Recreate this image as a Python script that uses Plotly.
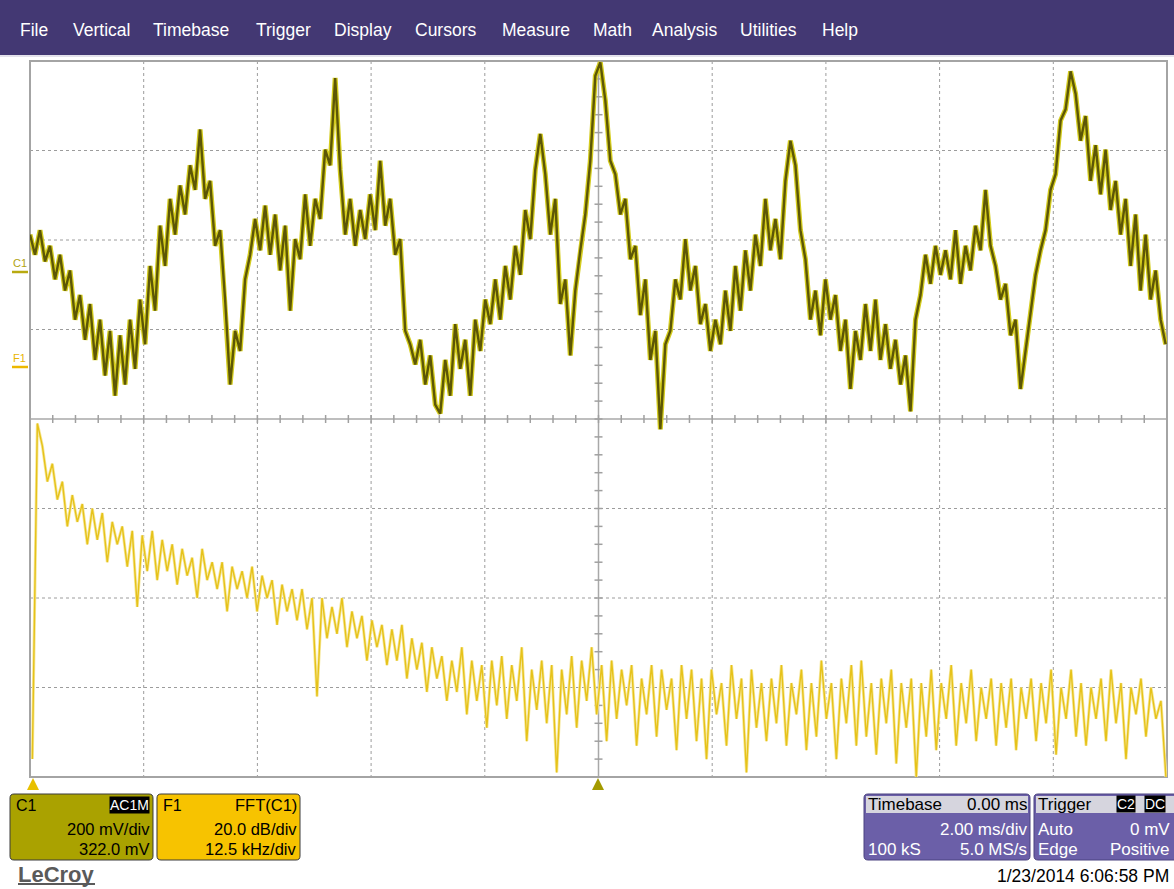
import numpy as np
import plotly.graph_objects as go

W, H = 1174, 889

# ---------------- data ----------------
# C1 : 200 mV/div, offset 322 mV, 2 ms/div, 20 ms record (values in mV)
c1_mv = [
    90, 45, 100, 30, 65, -10, 45, -35, 10, -100,
    -45, -145, -65, -190, -100, -225, -125, -270, -135, -245,
    -100, -210, -55, -155, 20, -80, 110, 20, 170, 90,
    200, 135, 245, 190, 325, 170, 210, 65, 100, -55,
    -245, -125, -170, -10, 45, 125, 55, 155, 45, 135,
    10, 110, -80, 80, 35, 180, 65, 170, 125, 280,
    245, 440, 235, 90, 170, 65, 145, 80, 180, 100,
    255, 110, 170, 45, 80, -125, -155, -200, -145, -245,
    -180, -290, -310, -190, -270, -110, -210, -145, -270, -100,
    -170, -55, -110, -10, -100, 20, -55, 65, 0, 145,
    80, 235, 315, 225, 90, 170, -65, -10, -180, -35,
    55, 135, 255, 445, 475, 390, 255, 225, 135, 170,
    35, 65, -90, -10, -190, -125, -345, -155, -125, -10,
    -55, 80, -35, 20, -110, -65, -170, -100, -155, -35,
    -125, 20, -80, 55, -35, 90, 20, 170, 55, 125,
    35, 210, 300, 245, 100, 35, -100, -35, -135, -10,
    -100, -45, -170, -100, -255, -125, -190, -65, -170, -55,
    -190, -110, -210, -145, -245, -180, -305, -100, -45, 45,
    -20, 65, 0, 55, -10, 100, -20, 65, 10, 110,
    55, 190, 65, 20, -55, -20, -135, -100, -255, -170,
    -80, 0, 55, 100, 190, 225, 345, 370, 455, 405,
    300, 355, 210, 290, 180, 280, 145, 210, 90, 170,
    20, 135, -35, 90, -55, 10, -100, -155,
]
c1_t0_ms = -10.0
c1_dt_ms = 0.088

# F1 : FFT(C1), 20 dB/div, 12.5 kHz/div (values in dB)
fft_db = [
    -88, -13, -18, -26, -22, -30, -26, -36, -29, -35,
    -31, -40, -32, -39, -33, -44, -35, -40, -36, -45,
    -37, -54, -38, -46, -37, -48, -39, -46, -40, -49,
    -41, -47, -43, -52, -41, -48, -44, -50, -44, -55,
    -45, -50, -46, -52, -45, -55, -47, -52, -48, -58,
    -49, -55, -50, -57, -50, -59, -52, -74, -52, -61,
    -54, -60, -52, -63, -55, -61, -56, -66, -57, -63,
    -58, -67, -59, -66, -58, -70, -61, -68, -62, -73,
    -63, -70, -65, -75, -66, -73, -63, -78, -66, -75,
    -67, -81, -66, -76, -65, -79, -67, -75, -63, -84,
    -68, -77, -66, -80, -67, -91, -68, -78, -65, -81,
    -66, -75, -63, -78, -67, -84, -66, -79, -68, -76,
    -67, -85, -70, -78, -67, -83, -68, -77, -70, -86,
    -67, -79, -68, -84, -70, -88, -68, -78, -71, -85,
    -67, -79, -70, -91, -68, -81, -71, -84, -70, -80,
    -67, -85, -71, -78, -68, -86, -71, -83, -66, -79,
    -71, -88, -70, -80, -67, -85, -66, -83, -71, -87,
    -70, -80, -68, -89, -71, -81, -70, -92, -71, -83,
    -68, -86, -71, -79, -67, -85, -71, -80, -68, -84,
    -72, -79, -70, -85, -71, -81, -70, -86, -72, -79,
    -70, -84, -71, -80, -68, -87, -72, -79, -68, -83,
    -71, -85, -72, -79, -70, -84, -68, -80, -71, -88,
    -72, -78, -70, -83, -72, -79, -75, -92,
]
fft_f0_khz = 0.26
fft_df_khz = 0.549

menu_items = ["File", "Vertical", "Timebase", "Trigger", "Display", "Cursors",
              "Measure", "Math", "Analysis", "Utilities", "Help"]

c1_scale_mv, c1_offset_mv = 200.0, 322.0
f1_scale_db, f1_center_db = 20.0, -12.0
tdiv_ms, fdiv_khz = 2.0, 12.5

# ---------------- geometry (pixels) ----------------
PL, PR, PT, PB = 30, 1167, 61, 777
menu_x = [19, 72, 152, 255, 333, 414, 501, 592, 651, 739, 821]


def px(x):
    return x / W


def py(y):
    return 1 - y / H


t_ms = c1_t0_ms + np.arange(len(c1_mv)) * c1_dt_ms
f_khz = fft_f0_khz + np.arange(len(fft_db)) * fft_df_khz

fig = go.Figure()
# C1 trace: bright halo + dark core
fig.add_trace(go.Scatter(x=t_ms, y=c1_mv, mode="lines", xaxis="x", yaxis="y",
                         line=dict(color="#d4cc1e", width=5.0), hoverinfo="skip"))
fig.add_trace(go.Scatter(x=t_ms, y=c1_mv, mode="lines", xaxis="x", yaxis="y",
                         line=dict(color="#5c5606", width=2.4), hoverinfo="skip"))
# F1 trace
fig.add_trace(go.Scatter(x=f_khz, y=fft_db, mode="lines", xaxis="x2", yaxis="y2",
                         line=dict(color="#f6e89a", width=3.0), hoverinfo="skip"))
fig.add_trace(go.Scatter(x=f_khz, y=fft_db, mode="lines", xaxis="x2", yaxis="y2",
                         line=dict(color="#e6c21a", width=1.4), hoverinfo="skip"))

dom_x = [px(PL), px(PR)]
dom_y = [py(PB), py(PT)]
hidden = dict(showgrid=False, zeroline=False, showticklabels=False, ticks="",
              showline=False, fixedrange=True)

shapes = []
grid_col = "#9c9c9c"
xdiv = (PR - PL) / 10
ydiv = (PB - PT) / 8
# dotted grid
for k in range(1, 10):
    if k == 5:
        continue
    xx = PL + k * xdiv
    shapes.append(dict(type="line", xref="paper", yref="paper", x0=px(xx), x1=px(xx),
                       y0=py(PT), y1=py(PB), line=dict(color=grid_col, width=1, dash="dot"),
                       layer="below"))
for k in range(1, 8):
    if k == 4:
        continue
    yy = PT + k * ydiv
    shapes.append(dict(type="line", xref="paper", yref="paper", x0=px(PL), x1=px(PR),
                       y0=py(yy), y1=py(yy), line=dict(color=grid_col, width=1, dash="dot"),
                       layer="below"))
# center cross
cx = PL + 5 * xdiv
cy = PT + 4 * ydiv
shapes.append(dict(type="line", xref="paper", yref="paper", x0=px(cx), x1=px(cx),
                   y0=py(PT), y1=py(PB), line=dict(color="#a8a8a8", width=1.5), layer="below"))
shapes.append(dict(type="line", xref="paper", yref="paper", x0=px(PL), x1=px(PR),
                   y0=py(cy), y1=py(cy), line=dict(color="#a8a8a8", width=1.5), layer="below"))
for k in range(1, 50):
    xx = PL + k * xdiv / 5
    shapes.append(dict(type="line", xref="paper", yref="paper", x0=px(xx), x1=px(xx),
                       y0=py(cy - 4), y1=py(cy + 4), line=dict(color="#a0a0a0", width=1.5),
                       layer="below"))
for k in range(1, 40):
    yy = PT + k * ydiv / 5
    shapes.append(dict(type="line", xref="paper", yref="paper", x0=px(cx - 4), x1=px(cx + 4),
                       y0=py(yy), y1=py(yy), line=dict(color="#a0a0a0", width=1.5),
                       layer="below"))
# frame
shapes.append(dict(type="rect", xref="paper", yref="paper", x0=px(PL), x1=px(PR),
                   y0=py(PB), y1=py(PT), line=dict(color="#a4a4a4", width=2), layer="below"))
# menu bar
shapes.append(dict(type="rect", xref="paper", yref="paper", x0=0, x1=1, y0=py(55), y1=1,
                   fillcolor="#433873", line=dict(width=0), layer="below"))
shapes.append(dict(type="line", xref="paper", yref="paper", x0=0, x1=1, y0=py(56), y1=py(56),
                   line=dict(color="#c8c4d8", width=1), layer="below"))

# channel markers on the left
shapes.append(dict(type="line", xref="paper", yref="paper", x0=px(12), x1=px(28),
                   y0=py(272), y1=py(272), line=dict(color="#b8aa10", width=2.5)))
shapes.append(dict(type="line", xref="paper", yref="paper", x0=px(12), x1=px(28),
                   y0=py(367), y1=py(367), line=dict(color="#ecb800", width=2.5)))


def tri(x, y, color):
    path = "M {} {} L {} {} L {} {} Z".format(px(x - 6), py(y + 5), px(x + 6), py(y + 5),
                                             px(x), py(y - 7))
    return dict(type="path", xref="paper", yref="paper", path=path, fillcolor=color,
                line=dict(width=0))


shapes.append(tri(33, 785, "#e8c000"))
shapes.append(tri(598, 785, "#a39a00"))


def rrect(x0, y0, x1, y1, r, fill, line="#3a3a3a", lw=1):
    pts = [
        ("M", x0 + r, y0), ("L", x1 - r, y0), ("Q", x1, y0, x1, y0 + r),
        ("L", x1, y1 - r), ("Q", x1, y1, x1 - r, y1), ("L", x0 + r, y1),
        ("Q", x0, y1, x0, y1 - r), ("L", x0, y0 + r), ("Q", x0, y0, x0 + r, y0),
    ]
    s = ""
    for p in pts:
        cmd = p[0]
        coords = p[1:]
        parts = []
        for i in range(0, len(coords), 2):
            parts.append("{:.5f},{:.5f}".format(px(coords[i]), py(coords[i + 1])))
        s += cmd + " " + " ".join(parts) + " "
    s += "Z"
    return dict(type="path", xref="paper", yref="paper", path=s, fillcolor=fill,
                line=dict(color=line, width=lw))


shapes.append(rrect(10, 794, 153, 860, 4, "#aaa200"))
shapes.append(rrect(157, 794, 300, 860, 4, "#f7c300"))
shapes.append(rrect(864, 794, 1030, 860, 4, "#6b5fa8", line="#4a4280"))
shapes.append(rrect(1034, 794, 1178, 860, 4, "#6b5fa8", line="#4a4280"))
# headers of purple boxes
shapes.append(dict(type="rect", xref="paper", yref="paper", x0=px(866), x1=px(1028),
                   y0=py(813), y1=py(796), fillcolor="#d6d5de", line=dict(width=0)))
shapes.append(dict(type="rect", xref="paper", yref="paper", x0=px(1036), x1=px(1176),
                   y0=py(813), y1=py(796), fillcolor="#d6d5de", line=dict(width=0)))
# LeCroy underline
shapes.append(dict(type="line", xref="paper", yref="paper", x0=px(18), x1=px(95),
                   y0=py(884), y1=py(884), line=dict(color="#5a5a5a", width=2)))

FONT = "Liberation Sans, Arial, sans-serif"
ann = []


def txt(x, y, s, size=14, color="black", xa="left", bg=None, bold=False):
    d = dict(x=px(x), y=py(y), xref="paper", yref="paper", text=("<b>%s</b>" % s) if bold else s,
             showarrow=False, xanchor=xa, yanchor="middle",
             font=dict(family=FONT, size=size, color=color), borderpad=0)
    if bg:
        d["bgcolor"] = bg
    return d


for name, mx in zip(menu_items, menu_x):
    ann.append(txt(mx, 30, name, size=17.5, color="white"))

ann.append(txt(12, 263, "C1", size=11, color="#b0a210"))
ann.append(txt(12, 358, "F1", size=11, color="#e8b400"))

# C1 box
ann.append(txt(15, 805, "C1", size=16))
ann.append(txt(150, 805, "AC1M", size=14, color="white", xa="right", bg="black"))
ann.append(txt(151, 829, "200 mV/div", size=16.5, xa="right"))
ann.append(txt(151, 849, "322.0 mV", size=16.5, xa="right"))
# F1 box
ann.append(txt(162, 805, "F1", size=16))
ann.append(txt(298, 805, "FFT(C1)", size=16.5, xa="right"))
ann.append(txt(298, 829, "20.0 dB/div", size=16.5, xa="right"))
ann.append(txt(298, 849, "12.5 kHz/div", size=16.5, xa="right"))
# Timebase box
ann.append(txt(867, 804, "Timebase", size=17))
ann.append(txt(1028, 804, "0.00 ms", size=17, xa="right"))
ann.append(txt(1028, 829, "2.00 ms/div", size=17, color="white", xa="right"))
ann.append(txt(867, 849, "100 kS", size=17, color="white"))
ann.append(txt(1028, 849, "5.0 MS/s", size=17, color="white", xa="right"))
# Trigger box
ann.append(txt(1037, 804, "Trigger", size=17))
ann.append(txt(1136, 804, "C2", size=14, color="white", xa="right", bg="black"))
ann.append(txt(1166, 804, "DC", size=14, color="white", xa="right", bg="black"))
ann.append(txt(1037, 829, "Auto", size=17, color="white"))
ann.append(txt(1171, 829, "0 mV", size=17, color="white", xa="right"))
ann.append(txt(1037, 849, "Edge", size=17, color="white"))
ann.append(txt(1171, 849, "Positive", size=17, color="white", xa="right"))
# footer
ann.append(txt(17, 874, "LeCroy", size=22, color="#5a5a5a", bold=True))
ann.append(txt(1170, 876, "1/23/2014 6:06:58 PM", size=17.5, xa="right"))

fig.update_layout(
    width=W, height=H,
    margin=dict(l=0, r=0, t=0, b=0),
    paper_bgcolor="white", plot_bgcolor="white",
    showlegend=False,
    xaxis=dict(domain=dom_x, range=[-5 * tdiv_ms, 5 * tdiv_ms], **hidden),
    yaxis=dict(domain=dom_y, range=[-4 * c1_scale_mv - c1_offset_mv, 4 * c1_scale_mv - c1_offset_mv],
               **hidden),
    xaxis2=dict(domain=dom_x, range=[0, 10 * fdiv_khz], overlaying="x", anchor="y2", **hidden),
    yaxis2=dict(domain=dom_y, range=[f1_center_db - 4 * f1_scale_db, f1_center_db + 4 * f1_scale_db],
                overlaying="y", anchor="x2", **hidden),
    shapes=shapes,
    annotations=ann,
)

fig.write_html("out.html",
               config={"displayModeBar": False, "staticPlot": True},
               post_script="document.body.style.margin='0';document.body.style.padding='0';"
                           "document.body.style.overflow='hidden';")
